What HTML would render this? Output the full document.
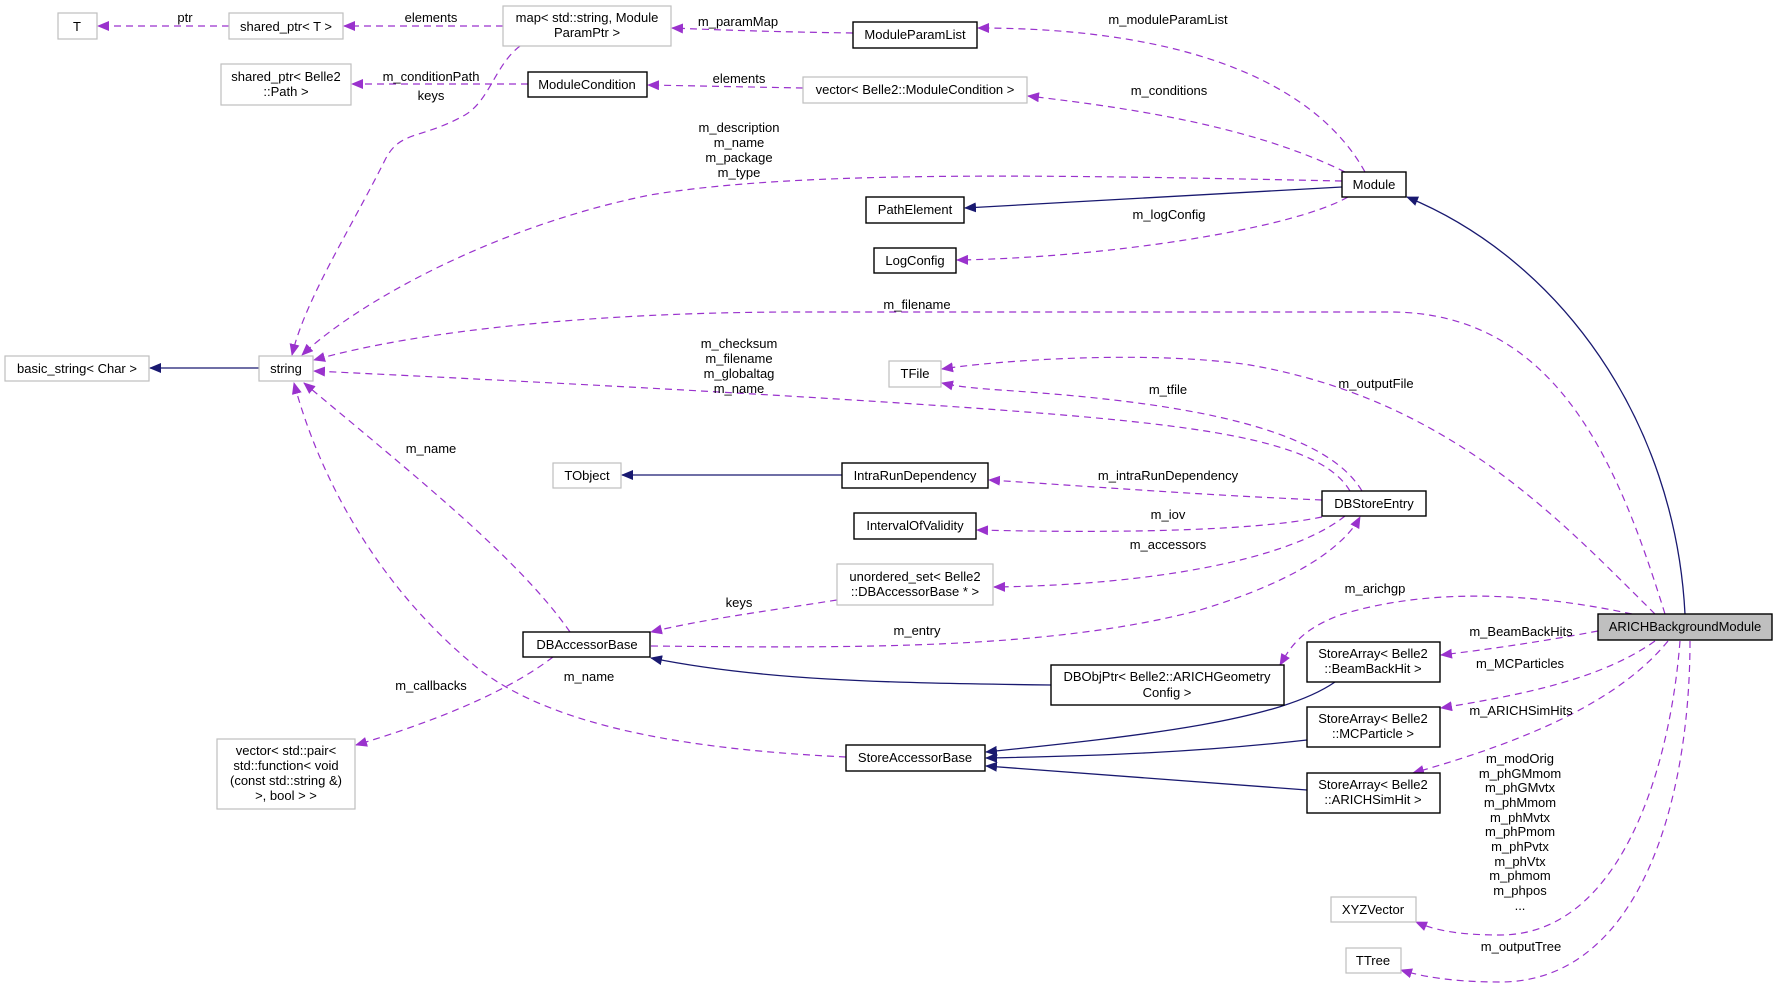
<!DOCTYPE html>
<html><head><meta charset="utf-8"><style>
html,body{margin:0;padding:0;background:#fff;}
svg{display:block;}
text{font-family:"Liberation Sans",Helvetica,sans-serif;font-size:13px;fill:#000;}
.n{fill:#fff;stroke:#000;stroke-width:1.4;}
.g{fill:#fff;stroke:#bfbfbf;stroke-width:1.2;}
.d{fill:none;stroke:#9a32cd;stroke-width:1.2;stroke-dasharray:7,5;}
.s{fill:none;stroke:#191970;stroke-width:1.3;}
</style></head><body>
<svg width="1777" height="986" viewBox="0 0 1777 986" xmlns="http://www.w3.org/2000/svg">
<defs>
<marker id="ap" markerWidth="12" markerHeight="10" refX="11" refY="5" orient="auto" markerUnits="userSpaceOnUse"><path d="M0,0 L12,5 L0,10 z" fill="#9a32cd"/></marker>
<marker id="an" markerWidth="12" markerHeight="10" refX="11" refY="5" orient="auto" markerUnits="userSpaceOnUse"><path d="M0,0 L12,5 L0,10 z" fill="#191970"/></marker>
</defs>

<!-- edges -->
<g>
<path class="d" marker-end="url(#ap)" d="M229,26 L98,26"/>
<path class="d" marker-end="url(#ap)" d="M503,26 L344,26"/>
<path class="d" marker-end="url(#ap)" d="M853,33 C780,32 720,30 672,28"/>
<path class="d" marker-end="url(#ap)" d="M528,84 L352,84"/>
<path class="d" marker-end="url(#ap)" d="M803,88 C750,87 700,86 648,85"/>
<path class="d" marker-end="url(#ap)" d="M520,46 C495,65 490,100 465,115 C420,140 400,130 385,160 C350,230 305,300 292,355"/>
<path class="d" marker-end="url(#ap)" d="M1365,172 C1320,90 1200,28 978,28"/>
<path class="d" marker-end="url(#ap)" d="M1345,172 C1260,130 1150,110 1028,96"/>
<path class="d" marker-end="url(#ap)" d="M1342,181 C1050,175 800,170 650,195 C500,225 360,300 302,355"/>
<path class="s" marker-end="url(#an)" d="M1342,187 L965,208"/>
<path class="d" marker-end="url(#ap)" d="M1348,197 C1290,230 1100,258 957,260"/>
<path class="s" marker-end="url(#an)" d="M1685,614 C1675,420 1560,260 1407,197"/>
<path class="d" marker-end="url(#ap)" d="M1665,614 C1620,470 1560,312 1390,312 L800,312 C600,312 420,330 314,360"/>
<path class="d" marker-end="url(#ap)" d="M1350,491 C1320,440 1200,425 1000,410 C800,395 500,380 314,371"/>
<path class="d" marker-end="url(#ap)" d="M1655,614 C1560,520 1450,400 1250,365 C1150,350 1000,360 942,369"/>
<path class="d" marker-end="url(#ap)" d="M1362,491 C1320,420 1150,400 1000,390 C970,388 955,386 942,383"/>
<path class="s" marker-end="url(#an)" d="M842,475 L622,475"/>
<path class="d" marker-end="url(#ap)" d="M1322,500 C1200,495 1100,487 989,480"/>
<path class="d" marker-end="url(#ap)" d="M1322,517 C1250,532 1100,533 977,530"/>
<path class="d" marker-end="url(#ap)" d="M1345,516 C1290,560 1150,585 994,587"/>
<path class="d" marker-end="url(#ap)" d="M837,600 C760,612 700,620 651,632"/>
<path class="d" marker-end="url(#ap)" d="M651,646 C850,648 1050,650 1200,610 C1300,580 1345,545 1360,517"/>
<path class="d" marker-end="url(#ap)" d="M553,657 C510,690 440,720 356,745"/>
<path class="s" marker-end="url(#an)" d="M1051,685 C880,683 760,680 651,658"/>
<path class="d" marker-end="url(#ap)" d="M570,632 C520,560 420,480 304,383"/>
<path class="d" marker-end="url(#ap)" d="M846,757 C700,750 560,730 480,670 C380,590 320,480 294,383"/>
<path class="d" marker-end="url(#ap)" d="M1632,614 C1520,590 1420,590 1340,615 C1300,630 1290,648 1280,665"/>
<path class="d" marker-end="url(#ap)" d="M1598,631 C1550,640 1500,648 1441,655"/>
<path class="s" marker-end="url(#an)" d="M1335,682 C1280,720 1150,735 986,752"/>
<path class="d" marker-end="url(#ap)" d="M1655,641 C1600,680 1520,695 1441,708"/>
<path class="s" marker-end="url(#an)" d="M1307,740 C1200,752 1100,756 986,758"/>
<path class="d" marker-end="url(#ap)" d="M1668,641 C1620,700 1530,740 1413,773"/>
<path class="s" marker-end="url(#an)" d="M1307,790 L986,766"/>
<path class="d" marker-end="url(#ap)" d="M1680,641 C1670,770 1620,935 1500,935 C1450,935 1430,928 1416,922"/>
<path class="d" marker-end="url(#ap)" d="M1690,641 C1690,800 1640,982 1500,982 C1450,982 1420,976 1401,970"/>
<path class="s" marker-end="url(#an)" d="M259,368 L150,368"/>
</g>

<!-- nodes -->
<g>
<rect class="g" x="58" y="13" width="39" height="26"/><text x="77" y="31" text-anchor="middle">T</text>
<rect class="g" x="229" y="13" width="114" height="26"/><text x="286" y="31" text-anchor="middle">shared_ptr&lt; T &gt;</text>
<rect class="g" x="503" y="6" width="168" height="40"/><text x="587" y="22" text-anchor="middle">map&lt; std::string, Module</text><text x="587" y="37" text-anchor="middle">ParamPtr &gt;</text>
<rect class="n" x="853" y="22" width="124" height="26"/><text x="915" y="39" text-anchor="middle">ModuleParamList</text>
<rect class="g" x="221" y="64" width="130" height="41"/><text x="286" y="81" text-anchor="middle">shared_ptr&lt; Belle2</text><text x="286" y="96" text-anchor="middle">::Path &gt;</text>
<rect class="n" x="528" y="72" width="119" height="25"/><text x="587" y="89" text-anchor="middle">ModuleCondition</text>
<rect class="g" x="803" y="77" width="224" height="26"/><text x="915" y="94" text-anchor="middle">vector&lt; Belle2::ModuleCondition &gt;</text>
<rect class="n" x="1342" y="172" width="64" height="25"/><text x="1374" y="189" text-anchor="middle">Module</text>
<rect class="n" x="866" y="197" width="98" height="26"/><text x="915" y="214" text-anchor="middle">PathElement</text>
<rect class="n" x="874" y="248" width="82" height="25"/><text x="915" y="265" text-anchor="middle">LogConfig</text>
<rect class="g" x="5" y="356" width="144" height="25"/><text x="77" y="373" text-anchor="middle">basic_string&lt; Char &gt;</text>
<rect class="g" x="259" y="356" width="54" height="25"/><text x="286" y="373" text-anchor="middle">string</text>
<rect class="g" x="889" y="361" width="52" height="26"/><text x="915" y="378" text-anchor="middle">TFile</text>
<rect class="g" x="553" y="463" width="68" height="25"/><text x="587" y="480" text-anchor="middle">TObject</text>
<rect class="n" x="842" y="463" width="146" height="25"/><text x="915" y="480" text-anchor="middle">IntraRunDependency</text>
<rect class="n" x="1322" y="491" width="104" height="25"/><text x="1374" y="508" text-anchor="middle">DBStoreEntry</text>
<rect class="n" x="854" y="513" width="122" height="26"/><text x="915" y="530" text-anchor="middle">IntervalOfValidity</text>
<rect class="g" x="837" y="564" width="156" height="41"/><text x="915" y="581" text-anchor="middle">unordered_set&lt; Belle2</text><text x="915" y="596" text-anchor="middle">::DBAccessorBase * &gt;</text>
<rect class="n" x="523" y="632" width="127" height="25"/><text x="587" y="649" text-anchor="middle">DBAccessorBase</text>
<rect class="n" x="1051" y="665" width="233" height="40"/><text x="1167" y="681" text-anchor="middle">DBObjPtr&lt; Belle2::ARICHGeometry</text><text x="1167" y="697" text-anchor="middle">Config &gt;</text>
<rect class="n" x="1598" y="614" width="174" height="26" style="fill:#bfbfbf"/><text x="1685" y="631" text-anchor="middle">ARICHBackgroundModule</text>
<rect class="n" x="1307" y="642" width="133" height="40"/><text x="1373" y="658" text-anchor="middle">StoreArray&lt; Belle2</text><text x="1373" y="673" text-anchor="middle">::BeamBackHit &gt;</text>
<rect class="n" x="1307" y="707" width="133" height="40"/><text x="1373" y="723" text-anchor="middle">StoreArray&lt; Belle2</text><text x="1373" y="738" text-anchor="middle">::MCParticle &gt;</text>
<rect class="n" x="1307" y="773" width="133" height="40"/><text x="1373" y="789" text-anchor="middle">StoreArray&lt; Belle2</text><text x="1373" y="804" text-anchor="middle">::ARICHSimHit &gt;</text>
<rect class="g" x="217" y="739" width="138" height="70"/><text x="286" y="755" text-anchor="middle">vector&lt; std::pair&lt;</text><text x="286" y="770" text-anchor="middle">std::function&lt; void</text><text x="286" y="785" text-anchor="middle">(const std::string &amp;)</text><text x="286" y="800" text-anchor="middle">&gt;, bool &gt; &gt;</text>
<rect class="n" x="846" y="745" width="139" height="26"/><text x="915" y="762" text-anchor="middle">StoreAccessorBase</text>
<rect class="g" x="1331" y="897" width="85" height="25"/><text x="1373" y="914" text-anchor="middle">XYZVector</text>
<rect class="g" x="1346" y="948" width="55" height="25"/><text x="1373" y="965" text-anchor="middle">TTree</text>
</g>

<!-- labels -->
<g text-anchor="middle">
<text x="185" y="22">ptr</text>
<text x="431" y="22">elements</text>
<text x="738" y="26">m_paramMap</text>
<text x="1168" y="24">m_moduleParamList</text>
<text x="431" y="81">m_conditionPath</text>
<text x="431" y="100">keys</text>
<text x="739" y="83">elements</text>
<text x="1169" y="95">m_conditions</text>
<text x="739" y="132">m_description</text><text x="739" y="147">m_name</text><text x="739" y="162">m_package</text><text x="739" y="177">m_type</text>
<text x="1169" y="219">m_logConfig</text>
<text x="917" y="309">m_filename</text>
<text x="739" y="348">m_checksum</text><text x="739" y="363">m_filename</text><text x="739" y="378">m_globaltag</text><text x="739" y="393">m_name</text>
<text x="1168" y="394">m_tfile</text>
<text x="1376" y="388">m_outputFile</text>
<text x="431" y="453">m_name</text>
<text x="1168" y="480">m_intraRunDependency</text>
<text x="1168" y="519">m_iov</text>
<text x="1168" y="549">m_accessors</text>
<text x="739" y="607">keys</text>
<text x="917" y="635">m_entry</text>
<text x="1375" y="593">m_arichgp</text>
<text x="1521" y="636">m_BeamBackHits</text>
<text x="1520" y="668">m_MCParticles</text>
<text x="1521" y="715">m_ARICHSimHits</text>
<text x="431" y="690">m_callbacks</text>
<text x="589" y="681">m_name</text>
<text x="1520" y="763">m_modOrig</text><text x="1520" y="778">m_phGMmom</text><text x="1520" y="792">m_phGMvtx</text><text x="1520" y="807">m_phMmom</text><text x="1520" y="822">m_phMvtx</text><text x="1520" y="836">m_phPmom</text><text x="1520" y="851">m_phPvtx</text><text x="1520" y="866">m_phVtx</text><text x="1520" y="880">m_phmom</text><text x="1520" y="895">m_phpos</text><text x="1520" y="910">...</text>
<text x="1521" y="951">m_outputTree</text>
</g>
</svg>
</body></html>
